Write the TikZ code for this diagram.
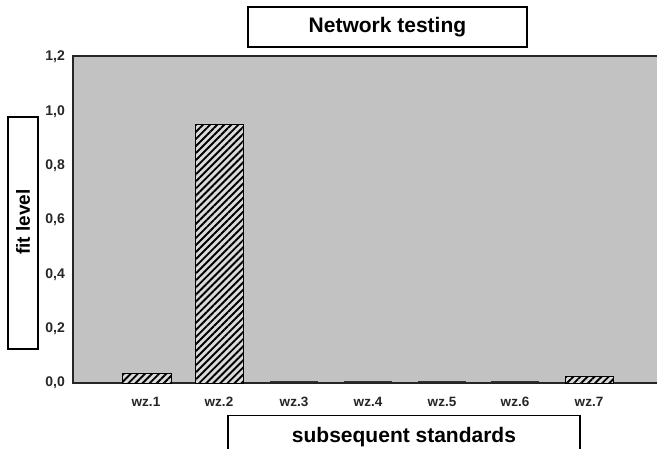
\documentclass[tikz,border=0pt]{standalone}
\usepackage{fontspec}
\setmainfont{Liberation Sans}
\usetikzlibrary{patterns.meta}
\definecolor{plotbg}{gray}{0.76}
\definecolor{barbg}{gray}{0.86}
\tikzset{
  labelbox/.style={draw=black, line width=1.2pt, fill=white, inner sep=0pt},
  ticklabel/.style={font=\fontsize{14}{16}\bfseries, text=black!85, anchor=east, inner sep=0pt},
  catlabel/.style={font=\fontsize{13.5}{15}\bfseries, text=black!85, inner sep=0pt},
  hatchbar/.style={draw=black, line width=1pt, fill=barbg,
    postaction={pattern={Lines[angle=45, distance=5pt, line width=1.9pt]}}},
  flatbar/.style={draw=black!80, line width=1.6pt},
}
\begin{document}
\begin{tikzpicture}[x=1pt, y=-1pt]
\useasboundingbox (0,0) rectangle (657,448);
\fill[white] (0,0) rectangle (657,448);
\begin{scope}
\clip (0,0) rectangle (657,448);
% plot area
\fill[plotbg] (73,56) rectangle (670,383);
\draw[line width=1.3pt, black!85] (670,56) -- (73,56) -- (73,383) -- (670,383);

% bars, value v drawn at y = 383 - 271.7 v
\draw[hatchbar] (122,383) rectangle (171,373.5);
\draw[hatchbar] (195,383) rectangle (243,124);
\draw[flatbar] (270,381.5) -- (318,381.5);
\draw[flatbar] (344,381.5) -- (392,381.5);
\draw[flatbar] (418,381.5) -- (466,381.5);
\draw[flatbar] (491,381.5) -- (539,381.5);
\draw[hatchbar] (565,383) rectangle (613,376);

% value axis labels
\node[ticklabel] (t12) at (65,57) {1,2};
\node[ticklabel] (t10) at (65,111.3) {1,0};
\node[ticklabel] (t08) at (65,165.7) {0,8};
\node[ticklabel] (t06) at (65,220) {0,6};
\node[ticklabel] (t04) at (65,274.3) {0,4};
\node[ticklabel] (t02) at (65,328.7) {0,2};
\node[ticklabel] (t00) at (65,383) {0,0};

% category labels
\node[catlabel] (c1) at (146,402) {wz.1};
\node[catlabel] (c2) at (219,402) {wz.2};
\node[catlabel] (c3) at (294,402) {wz.3};
\node[catlabel] (c4) at (368,402) {wz.4};
\node[catlabel] (c5) at (442,402) {wz.5};
\node[catlabel] (c6) at (515,402) {wz.6};
\node[catlabel] (c7) at (589,402) {wz.7};

% title and axis captions
\node[labelbox, minimum width=279pt, minimum height=40pt,
      font=\fontsize{21}{25}\bfseries] (title) at (387.5,27) {Network testing};
\node[labelbox, minimum width=232pt, minimum height=30pt, rotate=90] (ylab) at (23,233) {};
\node[font=\fontsize{19}{23}\bfseries, rotate=90, inner sep=0pt] (ytext) at (23,222) {fit level};
\node[labelbox, minimum width=352pt, minimum height=42pt,
      font=\fontsize{21}{25}\bfseries, anchor=north] (xlab) at (404,415) {subsequent standards};
\end{scope}
\end{tikzpicture}
\end{document}
